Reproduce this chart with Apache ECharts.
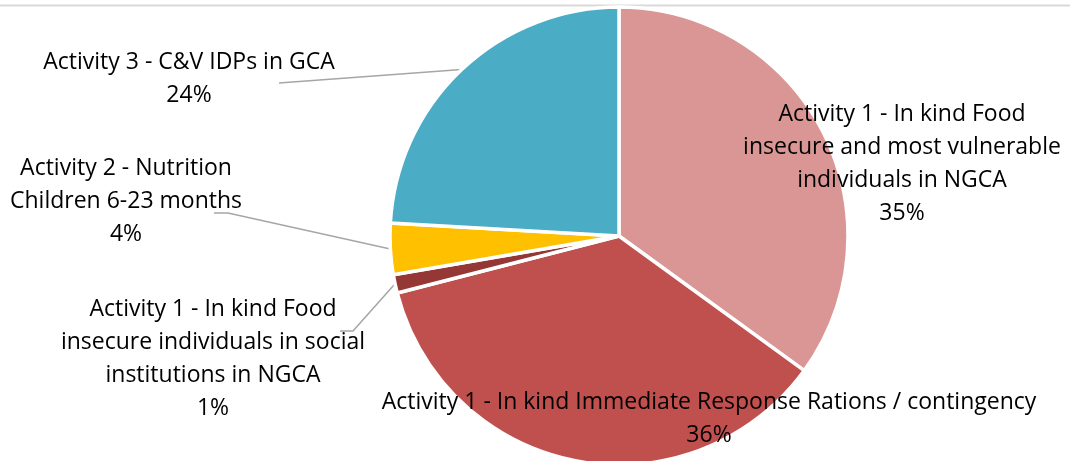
<!DOCTYPE html>
<html>
<head>
<meta charset="utf-8">
<script src="https://cdn.jsdelivr.net/npm/echarts@6/dist/echarts.min.js"></script>
<style>
html,body{margin:0;padding:0;background:#fff;}
#chart{width:1070px;height:461px;}
</style>
</head>
<body>
<div id="chart"></div>
<script>
// ---- data ----
const categories = [
  "Activity 1 - In kind Food\ninsecure and most vulnerable\nindividuals in NGCA",
  "Activity 1 - In kind Immediate Response Rations / contingency",
  "Activity 1 - In kind Food\ninsecure individuals in social\ninstitutions in NGCA",
  "Activity 2 - Nutrition\nChildren 6-23 months",
  "Activity 3 - C&V IDPs in GCA"
];
const values = [35.0, 36.0, 1.3, 3.6, 24.1];
const colors = ["#D99694", "#C0504D", "#953735", "#FFC000", "#4BACC6"];

// ---- layout (label placement, not data) ----
const labelPos = [
  {x: 902, y: 164, line: null},
  {x: 709, y: 419, line: null},
  {x: 213, y: 359, line: [[353, 331], [340, 331]]},
  {x: 126, y: 201, line: [[228, 213], [214, 213]]},
  {x: 189, y: 79, line: [[279, 83], [279, 83]]}
];

const chart = echarts.init(document.getElementById('chart'), null, {renderer: 'canvas'});
chart.setOption({
  animation: false,
  backgroundColor: '#ffffff',
  graphic: [{
    type: 'line',
    shape: {x1: 0, y1: 5.5, x2: 1070, y2: 5.5},
    style: {stroke: '#d9d9d9', lineWidth: 2}
  }],
  series: [{
    type: 'pie',
    center: [619, 236],
    radius: [0, 229],
    startAngle: 90,
    clockwise: true,
    avoidLabelOverlap: false,
    itemStyle: {borderColor: '#ffffff', borderWidth: 3.5},
    label: {
      show: true,
      position: 'outside',
      fontFamily: 'Open Sans',
      fontSize: 23,
      lineHeight: 33,
      color: '#000000',
      align: 'center',
      formatter: p => p.name + '\n' + Math.round(p.percent) + '%'
    },
    labelLine: {show: true, lineStyle: {color: '#a6a6a6', width: 1.5}},
    labelLayout: function (params) {
      const lp = labelPos[params.dataIndex];
      const res = {x: lp.x, y: lp.y, align: 'center', verticalAlign: 'middle'};
      if (lp.line && params.labelLinePoints) {
        const p0 = params.labelLinePoints[0];
        res.labelLinePoints = [p0, lp.line[0], lp.line[1]];
      } else {
        res.labelLinePoints = null;
      }
      return res;
    },
    data: categories.map((c, i) => ({
      name: c, value: values[i],
      itemStyle: {color: colors[i]},
      labelLine: {show: labelPos[i].line !== null}
    }))
  }]
});
</script>
</body>
</html>
